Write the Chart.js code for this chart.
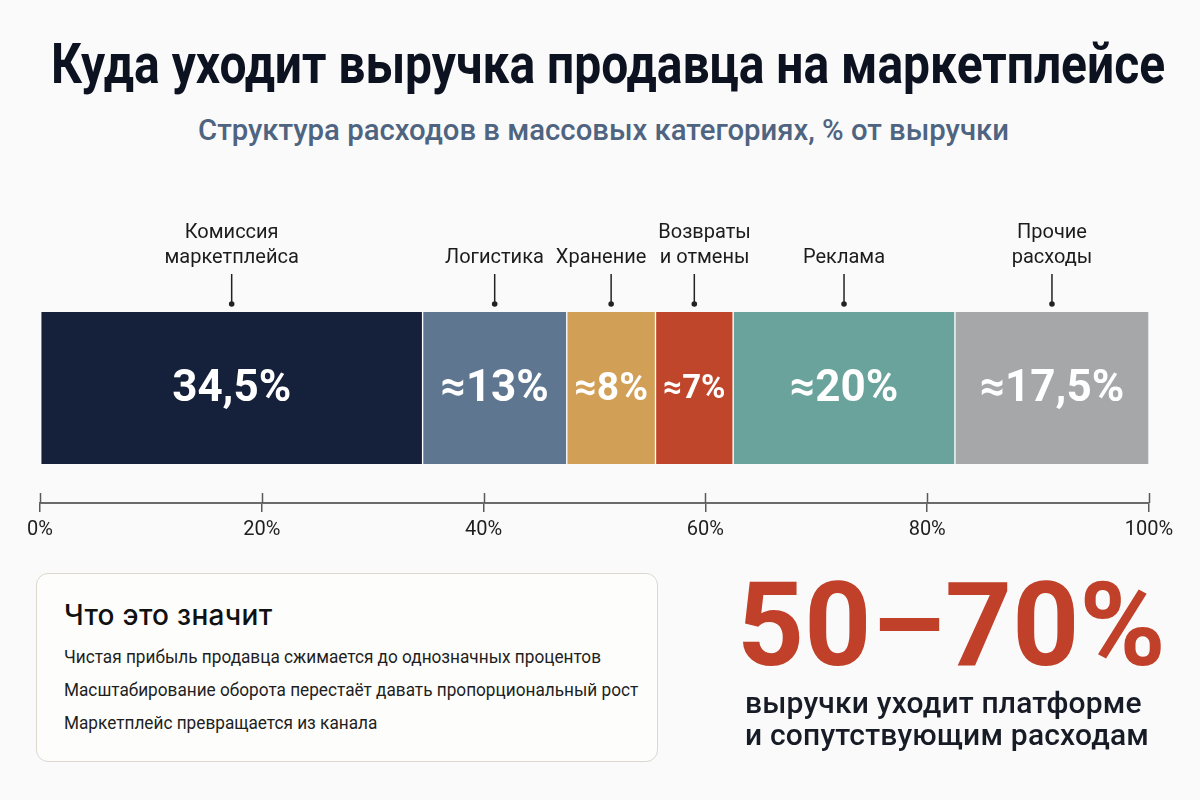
<!DOCTYPE html>
<html lang="ru">
<head>
<meta charset="utf-8">
<script src="https://cdn.jsdelivr.net/npm/chart.js@4.4.1/dist/chart.umd.min.js"></script>
<style>
  html, body { margin: 0; padding: 0; }
  body { width: 1200px; height: 800px; background: #fafafa; position: relative; overflow: hidden; font-family: Roboto, "Noto Sans", sans-serif; }
  .abs { position: absolute; white-space: nowrap; }
  #title { top: 34px; font-weight: 700; font-size: 56px; line-height: 60px; color: #0d1220; transform-origin: 0 0; }
  #subtitle { top: 114px; font-weight: 500; font-size: 29px; line-height: 32px; color: #4f6480; transform-origin: 0 0; }
  #chartWrap { position: absolute; left: 0; top: 180px; width: 1200px; height: 380px; }
  #box { left: 36px; top: 573px; width: 622px; height: 189px; box-sizing: border-box; border: 1.5px solid #dcd8cd; border-radius: 12px; background: #fdfdfc; }
  #box .h { position: absolute; left: 27px; top: 25px; font-family: Inter, Roboto, sans-serif; font-size: 28px; line-height: 32px; font-weight: 500; color: #111; white-space: nowrap; letter-spacing: 0.3px; }
  #box .l { position: absolute; left: 27px; font-size: 18px; line-height: 24px; color: #1e1e1e; white-space: nowrap; transform-origin: 0 0; }
  #big { left: 737px; top: 567px; font-weight: 700; font-size: 117px; line-height: 117px; color: #c0402a; }
  .sub { left: 745px; font-size: 30px; line-height: 32px; font-weight: 500; color: #161b26; letter-spacing: 0.2px; }
</style>
</head>
<body>
<div id="title" class="abs">Куда уходит выручка продавца на маркетплейсе</div>
<div id="subtitle" class="abs">Структура расходов в массовых категориях, % от выручки</div>
<div id="chartWrap"><canvas id="c" width="1200" height="380"></canvas></div>
<div id="box" class="abs">
  <div class="h">Что это значит</div>
  <div class="l" style="top:71px">Чистая прибыль продавца сжимается до однозначных процентов</div>
  <div class="l" style="top:104px">Масштабирование оборота перестаёт давать пропорциональный рост</div>
  <div class="l" style="top:137px">Маркетплейс превращается из канала</div>
</div>
<div id="big" class="abs">50–70%</div>
<div class="abs sub" style="top:687px">выручки уходит платформе</div>
<div class="abs sub" style="top:719px">и сопутствующим расходам</div>
<script>
const categories = [
  ["Комиссия", "маркетплейса"],
  ["Логистика"],
  ["Хранение"],
  ["Возвраты", "и отмены"],
  ["Реклама"],
  ["Прочие", "расходы"]
];
const shares = [34.5, 13, 8, 7, 20, 17.5];
const shareLabels = ["34,5%", "≈13%", "≈8%", "≈7%", "≈20%", "≈17,5%"];
const colors = ["#15213a", "#5f7690", "#d19f56", "#c0462b", "#6aa39c", "#a6a7a9"];
const axisTicks = [0, 20, 40, 60, 80, 100];

function fitText(id, left, width) {
  const el = document.getElementById(id);
  const w = el.getBoundingClientRect().width;
  const s = width / w;
  el.style.left = left + "px";
  el.style.transform = "scaleX(" + s.toFixed(4) + ")";
}
fitText("title", 51, 1114);
fitText("subtitle", 198, 811);
(function () {
  const lines = document.querySelectorAll("#box .l");
  const w = lines[0].getBoundingClientRect().width;
  const s = 537 / w;
  lines.forEach(l => l.style.transform = "scaleX(" + s.toFixed(4) + ")");
})();

const labelPlugin = {
  id: "segLabels",
  afterDatasetsDraw(chart) {
    const ctx = chart.ctx;
    const items = [];
    ctx.save();
    ctx.font = "400 20px Roboto, sans-serif";
    chart.data.datasets.forEach((ds, i) => {
      const bar = chart.getDatasetMeta(i).data[0];
      if (!bar) return;
      const p = bar.getProps(["x", "y", "base", "height"], true);
      const cx = (p.x + p.base) / 2;
      const w = Math.max(...categories[i].map(t => ctx.measureText(t).width));
      items.push({ i, cx, tx: cx, w, segW: Math.abs(p.x - p.base), y: p.y, top: p.y - p.height / 2 });
    });
    for (let iter = 0; iter < 20; iter++) {
      let moved = false;
      for (let k = 0; k < items.length - 1; k++) {
        const a = items[k], b = items[k + 1];
        const need = a.w / 2 + b.w / 2 + 12 - (b.tx - a.tx);
        if (need > 0) { a.tx -= need / 2; b.tx += need / 2; moved = true; }
      }
      if (!moved) break;
    }
    items.forEach(it => {
      const i = it.i;
      // value label, shrunk only if it would not fit its segment
      let size = 44;
      ctx.font = "700 " + size + "px Roboto, sans-serif";
      const tw = ctx.measureText(shareLabels[i]).width;
      if (tw > it.segW - 14) {
        size = Math.floor(size * (it.segW - 14) / tw);
        ctx.font = "700 " + size + "px Roboto, sans-serif";
      }
      ctx.fillStyle = "#ffffff";
      ctx.textAlign = "center";
      ctx.textBaseline = "alphabetic";
      ctx.fillText(shareLabels[i], it.cx, it.y + size * 0.3);
      // leader line + dot
      ctx.strokeStyle = "#222";
      ctx.lineWidth = 1.5;
      ctx.beginPath();
      ctx.moveTo(it.cx, it.top - 38);
      ctx.lineTo(it.cx, it.top - 8);
      ctx.stroke();
      ctx.fillStyle = "#222";
      ctx.beginPath();
      ctx.arc(it.cx, it.top - 8, 2.8, 0, Math.PI * 2);
      ctx.fill();
      // category label
      ctx.fillStyle = "#1c1c1c";
      ctx.font = "400 20px Roboto, sans-serif";
      const lines = categories[i];
      const lastBase = it.top - 49;
      for (let k = 0; k < lines.length; k++) {
        ctx.fillText(lines[k], it.tx, lastBase - (lines.length - 1 - k) * 25);
      }
    });
    ctx.restore();
  },
  afterDraw(chart) {
    const xs = chart.scales.x;
    const ctx = chart.ctx;
    const yAxis = chart.chartArea.bottom;
    ctx.save();
    ctx.strokeStyle = "#5a5a5a";
    ctx.lineWidth = 1.5;
    xs.ticks.forEach(t => {
      const px = Math.round(xs.getPixelForValue(t.value)) + 0.5;
      ctx.beginPath();
      ctx.moveTo(px, yAxis - 10);
      ctx.lineTo(px, yAxis);
      ctx.stroke();
    });
    ctx.restore();
  }
};

new Chart(document.getElementById("c"), {
  type: "bar",
  data: {
    labels: ["Выручка"],
    datasets: shares.map((v, i) => ({
      label: categories[i].join(" "),
      data: [v],
      backgroundColor: colors[i],
      borderColor: "#ffffff",
      borderWidth: { left: 1, right: 1, top: 0, bottom: 0 },
      borderSkipped: false,
      barThickness: 152
    }))
  },
  options: {
    indexAxis: "y",
    responsive: false,
    animation: false,
    layout: { padding: { top: 93, left: 40, right: 51, bottom: 0 } },
    plugins: { legend: { display: false }, tooltip: { enabled: false }, title: { display: false } },
    scales: {
      x: {
        stacked: true,
        min: 0,
        max: 100,
        afterBuildTicks(scale) { scale.ticks = axisTicks.map(v => ({ value: v })); },
        afterFit(scale) { scale.height = 57; },
        ticks: {
          callback: v => v + "%",
          color: "#1e1e1e",
          font: { family: "Roboto, sans-serif", size: 20 },
          padding: 6,
          maxRotation: 0,
          autoSkip: false
        },
        grid: { display: true, drawOnChartArea: false, drawTicks: true, tickLength: 9, color: "#5a5a5a", lineWidth: 1.5 },
        border: { display: true, color: "#6a6a6a", width: 2 }
      },
      y: { stacked: true, display: false }
    }
  },
  plugins: [labelPlugin]
});
</script>
</body>
</html>
